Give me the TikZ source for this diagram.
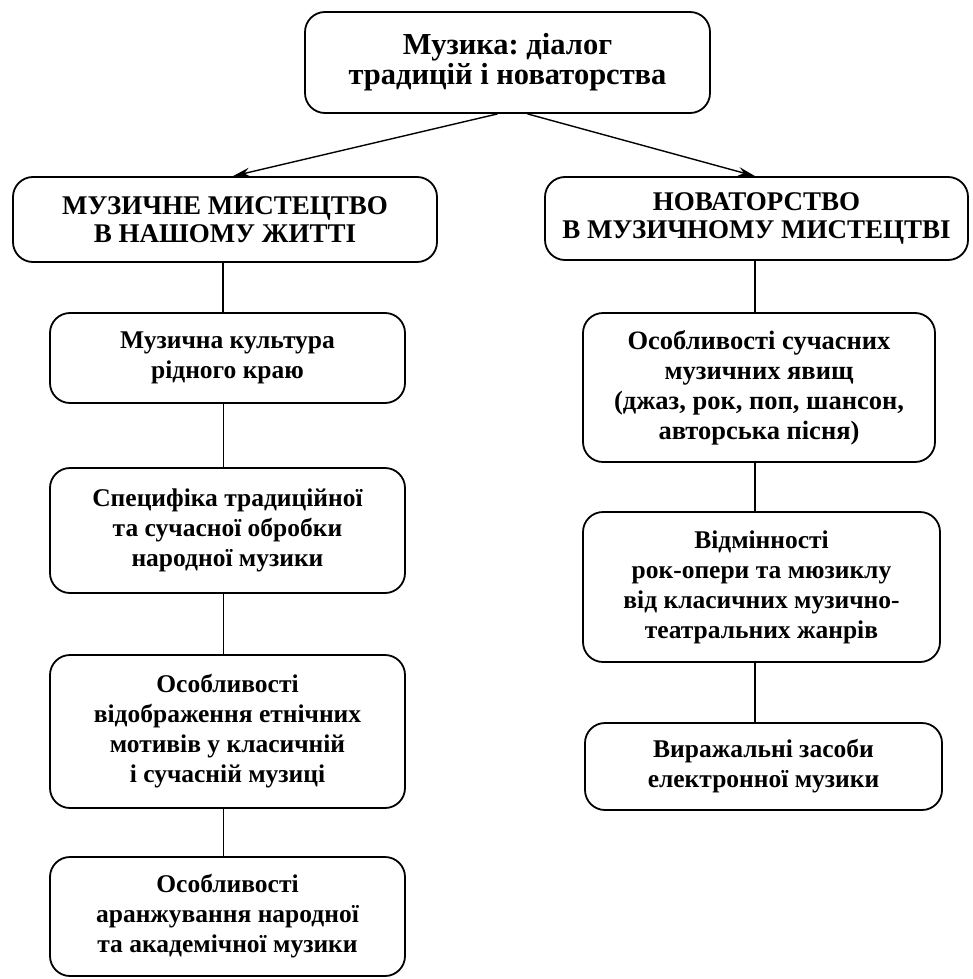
\documentclass[tikz,border=0pt]{standalone}
\usepackage{fontspec}
\setmainfont{Liberation Serif}
\usetikzlibrary{arrows.meta}
\frenchspacing

\begin{document}
\begin{tikzpicture}[x=1pt, y=1pt,
% Node styles
 box/.style={draw, line width=1.8pt, rounded corners=20pt, inner sep=0pt,
 font=\bfseries\fontsize{25.5}{30}\selectfont, align=center},
 head/.style={font=\bfseries\fontsize{27}{28.5}\selectfont},
 title/.style={font=\bfseries\fontsize{30.5}{30}\selectfont},
% Edge styles
 edge/.style={draw, line width=1.4pt, black},
 arrow/.style={edge, -{Stealth[length=17pt, width=9pt]}}
]
\useasboundingbox (0,0) rectangle (972,-979);

\node[box, title, minimum width=405pt, minimum height=101pt] (music) at (507.5,-62.5)
 {Музика: діалог\\традицій і новаторства};

\node[box, head, minimum width=424pt, minimum height=85pt] (life) at (225,-219.5)
 {МУЗИЧНЕ МИСТЕЦТВО\\В НАШОМУ ЖИТТІ};
\node[box, head, minimum width=423pt, minimum height=83pt] (novel) at (756.5,-218.5)
 {НОВАТОРСТВО\\В МУЗИЧНОМУ МИСТЕЦТВІ};

% left column
\node[box, minimum width=355pt, minimum height=90pt] (native) at (227.5,-358)
 {Музична культура\\рідного краю};
\node[box, minimum width=355pt, minimum height=125pt] (folk) at (227.5,-530.5)
 {Специфіка традиційної\\та сучасної обробки\\народної музики};
\node[box, minimum width=355pt, minimum height=153pt] (ethno) at (227.5,-731.5)
 {Особливості\\відображення етнічних\\мотивів у класичній\\і сучасній музиці};
\node[box, minimum width=355pt, minimum height=119pt] (arrange) at (227.5,-916.5)
 {Особливості\\аранжування народної\\та академічної музики};

% right column
\node[box, font=\bfseries\fontsize{26.5}{30}\selectfont, minimum width=352pt, minimum height=149pt] (modern) at (759,-387.5)
 {Особливості сучасних\\музичних явищ\\(джаз, рок, поп, шансон,\\авторська пісня)};
\node[box, minimum width=357pt, minimum height=150pt] (rock) at (761.5,-587)
 {Відмінності\\рок-опери та мюзиклу\\від класичних музично-\\театральних жанрів};
\node[box, minimum width=357pt, minimum height=87pt] (electro) at (763.5,-766.5)
 {Виражальні засоби\\електронної музики};

\draw[arrow] ([xshift=-10pt]music.south) -- ([xshift=8pt]life.north);
\draw[arrow] ([xshift=20pt]music.south) -- ([xshift=-1.5pt]novel.north);

\draw[edge] ([xshift=-2pt]life.south) -- ([xshift=-2pt]life.south |- native.north);
\draw[edge] ([xshift=-4pt]native.south) -- ([xshift=-4pt]native.south |- folk.north);
\draw[edge] ([xshift=-4pt]folk.south) -- ([xshift=-4pt]folk.south |- ethno.north);
\draw[edge] ([xshift=-4pt]ethno.south) -- ([xshift=-4pt]ethno.south |- arrange.north);

\draw[edge] ([xshift=-1.5pt]novel.south) -- ([xshift=-1.5pt]novel.south |- modern.north);
\draw[edge] ([xshift=-4pt]modern.south) -- ([xshift=-4pt]modern.south |- rock.north);
\draw[edge] ([xshift=-6.5pt]rock.south) -- ([xshift=-6.5pt]rock.south |- electro.north);

\end{tikzpicture}
\end{document}
